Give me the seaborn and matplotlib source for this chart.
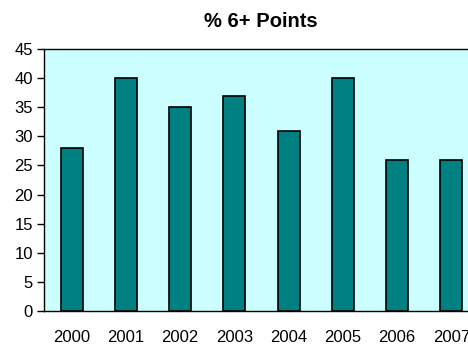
import matplotlib
matplotlib.use('Agg')
import matplotlib.pyplot as plt
import seaborn as sns

sns.set_style('white')
plt.rcParams['font.family'] = ['Liberation Sans', 'DejaVu Sans']
plt.rcParams['text.color'] = 'black'
plt.rcParams['xtick.color'] = 'black'
plt.rcParams['ytick.color'] = 'black'

years = ['2000', '2001', '2002', '2003', '2004', '2005', '2006', '2007']
pct_6plus = [28, 40, 35, 37, 31, 40, 26, 26]

fig = plt.figure(figsize=(4.68, 3.46), dpi=100)
# plot area runs off the right edge, as in the original export
ax = fig.add_axes([44 / 468, 35 / 346, 434 / 468, 262 / 346])
ax.set_facecolor('#CCFFFF')

sns.barplot(x=years, y=pct_6plus, color='#008080', saturation=1,
            edgecolor='black', linewidth=1.2, width=0.405, ax=ax)

ax.set_xlim(-0.51, 7.49)
ax.set_ylim(0, 45)
ax.set_yticks(range(0, 50, 5))
ax.tick_params(axis='y', length=5, width=1, pad=3, labelsize=12, direction='out', left=True)
ax.tick_params(axis='x', length=0, pad=14, labelsize=12)
for s in ax.spines.values():
    s.set_color('black')
    s.set_linewidth(1)
ax.set_xlabel('')
ax.set_ylabel('')
ax.set_title('% 6+ Points', fontsize=14.5, fontweight='bold', pad=16, color='black')

fig.savefig('out.png', dpi=100)
